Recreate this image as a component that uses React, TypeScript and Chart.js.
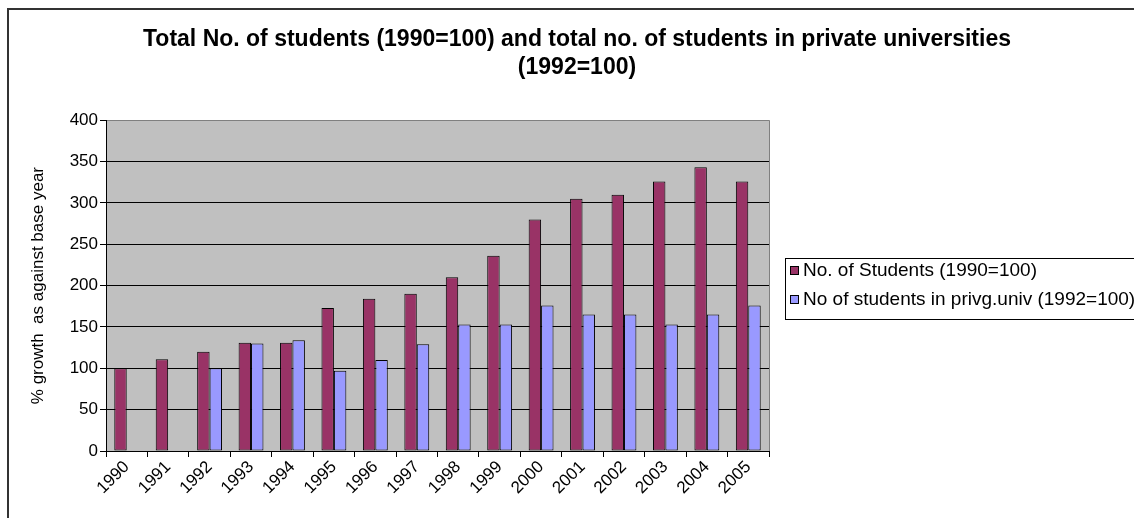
import { useEffect, useRef } from "react";
import { Chart, registerables } from "chart.js";

Chart.register(...registerables);

const years = ["1990", "1991", "1992", "1993", "1994", "1995", "1996", "1997", "1998", "1999", "2000", "2001", "2002", "2003", "2004", "2005"];
const totalStudents = [100, 111, 120, 131, 131, 173, 184, 190, 210, 236, 280, 305, 310, 326, 343, 326];
const privateStudents = [null, null, 100, 130, 134, 97, 110, 129, 153, 153, 176, 165, 165, 153, 165, 176];
const seriesLabels = ["No. of Students (1990=100)", "No of students in privg.univ (1992=100)"];
const titleLines = ["Total No. of students (1990=100) and total no. of students in private universities", "(1992=100)"];
const yAxisTitle = "% growth  as against base year";
const yMin = 0;
const yMax = 400;
const yStep = 50;

const FONT = "'Liberation Sans', Arial, sans-serif";

const plotBg = {
  id: "plotBg",
  beforeDraw(chart: any) {
    const { ctx, chartArea } = chart;
    ctx.save();
    ctx.fillStyle = "#C0C0C0";
    ctx.fillRect(chartArea.left, chartArea.top, chartArea.right - chartArea.left, chartArea.bottom - chartArea.top);
    ctx.restore();
  },
  afterDraw(chart: any) {
    const { ctx, chartArea } = chart;
    ctx.save();
    ctx.strokeStyle = "#808080";
    ctx.lineWidth = 1;
    ctx.beginPath();
    const x = Math.round(chartArea.right) + 0.5;
    ctx.moveTo(x, chartArea.top);
    ctx.lineTo(x, chartArea.bottom);
    ctx.stroke();
    ctx.restore();
  },
};

const frame = {
  id: "frame",
  afterDraw(chart: any) {
    const { ctx, width, height } = chart;
    ctx.save();
    ctx.strokeStyle = "#333333";
    ctx.lineWidth = 2;
    ctx.beginPath();
    ctx.moveTo(7, 9);
    ctx.lineTo(width, 9);
    ctx.moveTo(8, 8);
    ctx.lineTo(8, height);
    ctx.stroke();
    ctx.restore();
  },
};

const legendBox = {
  id: "legendBox",
  afterDraw(chart: any) {
    const { ctx } = chart;
    ctx.save();
    ctx.strokeStyle = "#000";
    ctx.lineWidth = 1;
    ctx.strokeRect(785.5, 258.5, 360, 61);
    ctx.font = `19px ${FONT}`;
    ctx.textBaseline = "middle";
    chart.data.datasets.forEach((ds: any, i: number) => {
      const y = 270 + i * 29;
      ctx.fillStyle = ds.backgroundColor;
      ctx.fillRect(790, y - 4, 9, 9);
      ctx.strokeStyle = "#000";
      ctx.strokeRect(790.5, y - 3.5, 8, 8);
      ctx.fillStyle = "#000";
      ctx.fillText(ds.label, 803, y + 1);
    });
    ctx.restore();
  },
};

const titleCenter = {
  id: "titleCenter",
  afterLayout(chart: any) {
    const t = chart.titleBlock;
    if (t) {
      t.left = 20;
      t.right = 1134;
      t.width = 1114;
    }
  },
};

export default function App() {
  const canvasRef = useRef<HTMLCanvasElement | null>(null);

  useEffect(() => {
    if (!canvasRef.current) return;
    const tickFont = { family: FONT, size: 17 };
    const chart = new Chart(canvasRef.current, {
      type: "bar",
      data: {
        labels: years,
        datasets: [
          {
            label: seriesLabels[0],
            data: totalStudents,
            backgroundColor: "#993366",
            borderColor: "#000000",
            borderWidth: 1,
            borderSkipped: false,
            categoryPercentage: 0.6,
            barPercentage: 1,
          },
          {
            label: seriesLabels[1],
            data: privateStudents as any,
            backgroundColor: "#9999FF",
            borderColor: "#000000",
            borderWidth: 1,
            borderSkipped: false,
            categoryPercentage: 0.6,
            barPercentage: 1,
          },
        ],
      },
      options: {
        responsive: false,
        animation: false,
        layout: { padding: { left: 8, right: 365, top: 8, bottom: 0 } },
        plugins: {
          legend: { display: false },
          tooltip: { enabled: false },
          title: {
            display: true,
            text: titleLines,
            color: "#000",
            font: { family: FONT, size: 23, weight: "bold", lineHeight: 1.2 },
            padding: { top: 18, bottom: 39 },
          },
        },
        scales: {
          x: {
            grid: { display: true, drawOnChartArea: false, drawTicks: true, tickLength: 6, color: "#000", offset: true },
            border: { color: "#000", width: 1 },
            ticks: { autoSkip: false, minRotation: 45, maxRotation: 45, color: "#000", font: tickFont, padding: 0 },
            afterFit(s: any) {
              s.height = 67;
            },
          },
          y: {
            min: yMin,
            max: yMax,
            ticks: { stepSize: yStep, color: "#000", font: tickFont, padding: 2 },
            grid: {
              color: (c: any) => (c.tick && c.tick.value === yMax ? "#808080" : "#000"),
              tickColor: "#000",
              tickLength: 6,
              lineWidth: 1,
            },
            border: { color: "#000", width: 1 },
            title: { display: true, text: yAxisTitle, color: "#000", font: { family: FONT, size: 17 }, padding: { top: 20, bottom: 0 } },
            afterFit(s: any) {
              s.width = 98;
            },
          },
        },
      } as any,
      plugins: [plotBg, frame, legendBox, titleCenter],
    });
    return () => chart.destroy();
  }, []);

  return (
    <div style={{ position: "absolute", left: 0, top: 0, width: 1134, height: 518, background: "#fff" }}>
      <canvas ref={canvasRef} width={1134} height={518} style={{ display: "block" }} />
    </div>
  );
}
